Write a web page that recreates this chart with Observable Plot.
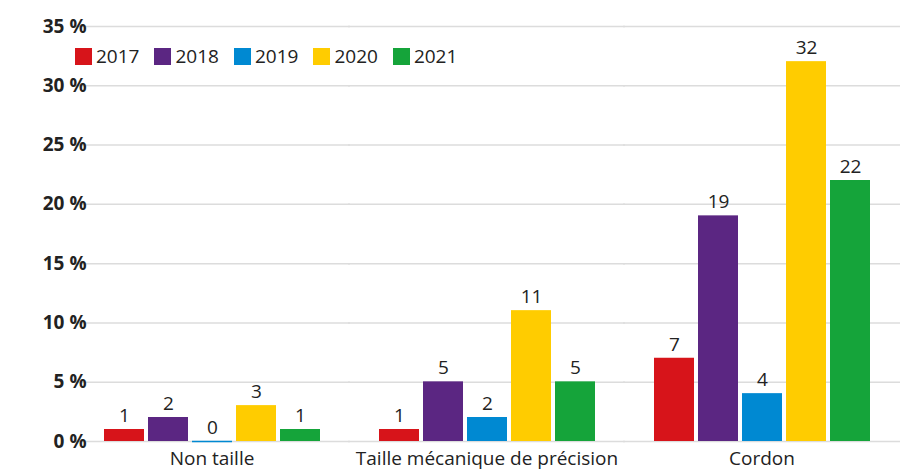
<!DOCTYPE html>
<html><head><meta charset="utf-8">
<script src="https://cdn.jsdelivr.net/npm/d3@7"></script>
<script src="https://cdn.jsdelivr.net/npm/@observablehq/plot@0.6"></script>
<style>
html,body{margin:0;padding:0;background:#fff;}
#wrap{position:relative;width:900px;height:471px;font-family:"Open Sans",sans-serif;}
#legend{position:absolute;left:75px;top:43px;display:flex;gap:0;font-size:19px;color:#222;z-index:2;}
#legend .item{display:flex;align-items:center;margin-right:15px;}
#legend .sw{width:17px;height:17px;margin-right:4px;}
</style></head>
<body><div id="wrap"><div id="legend"></div></div>
<script>
const categories = ["Non taille", "Taille mécanique de précision", "Cordon"];
const years = ["2017", "2018", "2019", "2020", "2021"];
const colors = ["#d7141a", "#5b2682", "#0089d2", "#ffcc00", "#15a43a"];
const values = {
  "2017": [1, 1, 7],
  "2018": [2, 5, 19],
  "2019": [0, 2, 4],
  "2020": [3, 11, 32],
  "2021": [1, 5, 22]
};
const yTicks = [0, 5, 10, 15, 20, 25, 30, 35];

const data = [];
categories.forEach((c, i) => years.forEach(y => data.push({cat: c, year: y, value: values[y][i]})));

const font = "'Open Sans', sans-serif";
const chart = Plot.plot({
  width: 900, height: 471,
  marginLeft: 73, marginRight: 0, marginTop: 26, marginBottom: 30,
  style: {fontFamily: font, fontSize: "19px", color: "#222", background: "transparent", overflow: "visible"},
  fx: {domain: categories, paddingInner: 0.182, paddingOuter: 0.091, label: null},
  x: {domain: years, padding: 0.1, axis: null},
  y: {domain: [0, 35], ticks: yTicks, label: null},
  color: {domain: years, range: colors},
  marks: [
    Plot.ruleY(yTicks, {stroke: "#dcdcdc", strokeWidth: 1.5, insetLeft: -26, insetRight: -26}),
    Plot.axisY(yTicks, {tickSize: 0, tickPadding: 13, tickFormat: d => d + " %", fontWeight: "bold", fontSize: 19, label: null}),
    Plot.axisFx({anchor: "bottom", tickSize: 0, tickPadding: 10, fontSize: 19, label: null}),
    Plot.barY(data, {fx: "cat", x: "year", y: "value", fill: "year"}),
    Plot.tickY(data, {fx: "cat", x: "year", y: "value", stroke: "year", strokeWidth: 1.5}),
    Plot.text(data, {fx: "cat", x: "year", y: "value", text: d => String(d.value), dy: -14, fontSize: 19, fill: "#222"})
  ]
});
document.getElementById("wrap").appendChild(chart);
chart.style.position = "absolute"; chart.style.left = "0"; chart.style.top = "0";

const legend = document.getElementById("legend");
years.forEach((y, i) => {
  const it = document.createElement("div"); it.className = "item";
  const sw = document.createElement("div"); sw.className = "sw"; sw.style.background = colors[i];
  const t = document.createElement("span"); t.textContent = y;
  it.appendChild(sw); it.appendChild(t); legend.appendChild(it);
});
</script></body></html>
